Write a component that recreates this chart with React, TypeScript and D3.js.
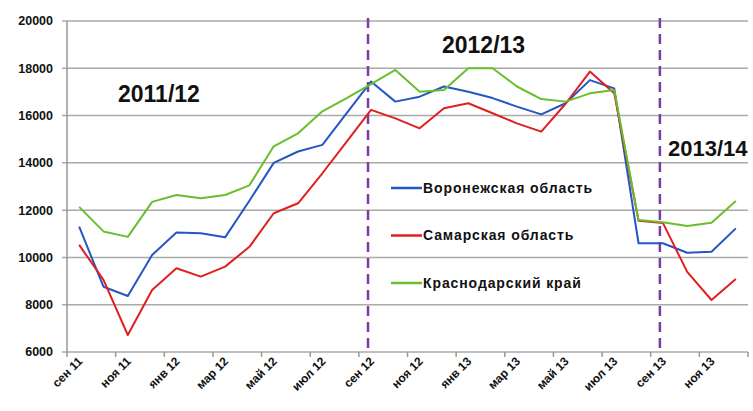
import React from "react";
import * as d3 from "d3";

const months = [
  "сен 11", "окт 11", "ноя 11", "дек 11", "янв 12", "фев 12", "мар 12", "апр 12",
  "май 12", "июн 12", "июл 12", "авг 12", "сен 12", "окт 12", "ноя 12", "дек 12",
  "янв 13", "фев 13", "мар 13", "апр 13", "май 13", "июн 13", "июл 13", "авг 13",
  "сен 13", "окт 13", "ноя 13", "дек 13",
];

const voronezh = [
  11300, 8760, 8370, 10100, 11050, 11020, 10850, 12400, 14000, 14480, 14760, 16100,
  17440, 16590, 16800, 17230, 17010, 16740, 16380, 16050, 16520, 17500, 17150, 10600,
  10600, 10200, 10240, 11230,
];
const samara = [
  10530, 9050, 6720, 8620, 9540, 9190, 9610, 10450, 11870, 12290, 13560, 14900,
  16240, 15880, 15460, 16310, 16520, 16100, 15670, 15320, 16500, 17860, 16940, 11550,
  11460, 9390, 8200, 9090,
];
const krasnodar = [
  12140, 11100, 10870, 12350, 12640, 12500, 12640, 13050, 14700, 15250, 16180, 16740,
  17330, 17930, 17010, 17080, 18000, 18000, 17230, 16700, 16590, 16940, 17080, 11580,
  11490, 11330, 11470, 12390,
];

const seriesNames = ["Воронежская область", "Самарская область", "Краснодарский край"];
const seriesColors = ["#2456c4", "#e0201e", "#68bf2c"];
const yTicks = [6000, 8000, 10000, 12000, 14000, 16000, 18000, 20000];
const seasonLabels = ["2011/12", "2012/13", "2013/14"];
const seasonStarts = ["сен 12", "сен 13"];

const W = 753;
const H = 411;
const M = { left: 67, right: 748, top: 21, bottom: 352 };

export default function App() {
  const x = d3.scaleBand<string>().domain(months).range([M.left, M.right]).padding(0);
  const y = d3.scaleLinear().domain([6000, 20000]).range([M.bottom, M.top]);
  const cx = (m: string) => (x(m) as number) + x.bandwidth() / 2;

  const line = d3
    .line<number>()
    .x((_, i) => cx(months[i]))
    .y((d) => y(d));

  const data = [voronezh, samara, krasnodar];
  const tickBounds = d3.range(0, months.length + 1, 2).map((i) =>
    i < months.length ? (x(months[i]) as number) : M.right
  );
  const labelMonths = months.filter((_, i) => i % 2 === 0);

  const font = "'Liberation Sans', Arial, sans-serif";

  return (
    <svg
      width={W}
      height={H}
      style={{ position: "fixed", left: 0, top: 0, background: "#fff" }}
      fontFamily={font}
    >
      <rect x={0} y={0} width={W} height={H} fill="#fff" />
      {/* gridlines */}
      {yTicks.map((t) => (
        <g key={t}>
          <line x1={M.left - 5} x2={M.right} y1={y(t)} y2={y(t)} stroke="#aaaaaa" strokeWidth={1.5} />
          <text
            x={53}
            y={y(t)}
            dy="0.35em"
            textAnchor="end"
            fontSize={12.5}
            fontWeight="bold"
            fill="#111"
          >
            {t}
          </text>
        </g>
      ))}
      <line x1={M.left} x2={M.left} y1={M.top} y2={M.bottom} stroke="#999" strokeWidth={1.5} />
      {tickBounds.map((tx, i) => (
        <line key={i} x1={tx} x2={tx} y1={M.bottom} y2={M.bottom + 5} stroke="#999" strokeWidth={1.5} />
      ))}
      {labelMonths.map((m) => (
        <text
          key={m}
          transform={`translate(${cx(m) + 4},${M.bottom + 10}) rotate(-45)`}
          textAnchor="end"
          fontSize={12}
          fontWeight="bold"
          fill="#111"
        >
          {m}
        </text>
      ))}
      {/* season separators */}
      {seasonStarts.map((m) => (
        <line
          key={m}
          x1={cx(m) - 3}
          x2={cx(m) - 3}
          y1={18}
          y2={M.bottom}
          stroke="#7a3da6"
          strokeWidth={2.5}
          strokeDasharray="10,6"
        />
      ))}
      {/* series */}
      {data.map((d, i) => (
        <path
          key={seriesNames[i]}
          d={line(d) || ""}
          fill="none"
          stroke={seriesColors[i]}
          strokeWidth={2}
          strokeLinejoin="round"
        />
      ))}
      {/* season labels */}
      <text x={118} y={102} fontSize={23} fontWeight="bold" fill="#111">{seasonLabels[0]}</text>
      <text x={442} y={53} fontSize={23} fontWeight="bold" fill="#111">{seasonLabels[1]}</text>
      <rect x={664} y={136} width={89} height={24} fill="#fff" fillOpacity={0.6} />
      <text x={668} y={156} fontSize={22} fontWeight="bold" fill="#111">{seasonLabels[2]}</text>
      {/* legend */}
      {seriesNames.map((name, i) => {
        const ly = 188 + i * 47.5;
        return (
          <g key={name}>
            <line x1={391} x2={422} y1={ly} y2={ly} stroke={seriesColors[i]} strokeWidth={2.5} />
            <text
              x={423}
              y={ly}
              dy="0.35em"
              fontSize={14}
              fontWeight="bold"
              letterSpacing={0.9}
              fill="#111"
            >
              {name}
            </text>
          </g>
        );
      })}
    </svg>
  );
}
